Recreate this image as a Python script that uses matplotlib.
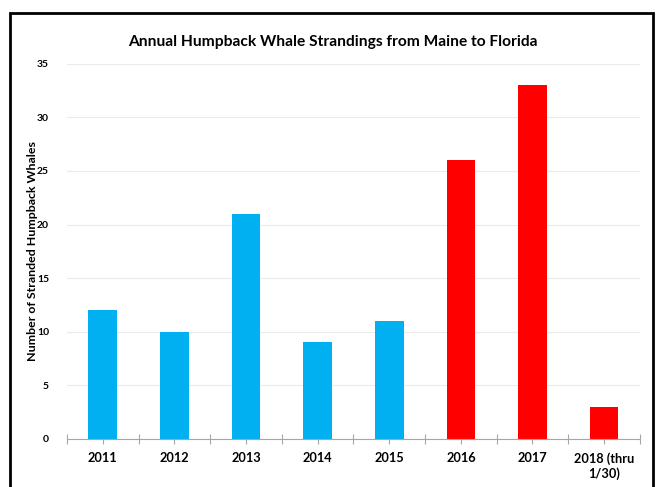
"""Annual humpback whale strandings bar chart."""

import matplotlib

matplotlib.use("Agg")

import matplotlib.pyplot as plt
from matplotlib.patches import Rectangle

years = ["2011", "2012", "2013", "2014", "2015", "2016", "2017", "2018 (thru\n1/30)"]
strandings = [12, 10, 21, 9, 11, 26, 33, 3]
is_ume = [False, False, False, False, False, True, True, True]

BLUE = "#00B0F0"
RED = "#FF0000"

plt.rcParams["font.family"] = ["Lato", "DejaVu Sans"]
plt.rcParams["font.weight"] = "bold"

fig = plt.figure(figsize=(6.57, 4.87), dpi=100)
ax = fig.add_axes([0.102, 0.0986, 0.872, 0.7705])

positions = list(range(len(years)))
colors = [RED if flag else BLUE for flag in is_ume]
ax.bar(positions, strandings, width=0.4, color=colors, zorder=3)

ax.set_xlim(-0.5, len(years) - 0.5)
ax.set_ylim(0, 35)
ax.set_yticks(range(0, 36, 5))
ax.tick_params(axis="y", length=0, labelsize=7.5, pad=13)
for label in ax.get_yticklabels():
    label.set_fontweight("bold")

# boundary ticks plus centre ticks, both crossing the axis line
ax.set_xticks([p - 0.5 for p in positions] + [len(years) - 0.5])
ax.set_xticklabels([])
ax.set_xticks(positions, minor=True)
ax.set_xticklabels(years, minor=True, fontsize=9.2, fontweight="bold")
ax.tick_params(axis="x", which="both", direction="inout", length=7,
               color="#A6A6A6", width=0.8, pad=6)

ax.grid(axis="y", color="#EBEBEB", linewidth=0.8, zorder=0)
for side in ("top", "right", "left"):
    ax.spines[side].set_visible(False)
ax.spines["bottom"].set_color("#A6A6A6")
ax.spines["bottom"].set_zorder(4)

ax.set_ylabel("Number of Stranded Humpback Whales", fontsize=8.9,
              fontweight="bold")
ax.yaxis.set_label_coords(-0.051, 0.5)
fig.text(0.507, 0.913, "Annual Humpback Whale Strandings from Maine to Florida",
         ha="center", va="center", fontsize=11.2, fontweight="bold")

# outer frame, bottom edge runs past the image
frame = Rectangle((10 / 657, -0.05), 643 / 657, 1.05 - 13 / 487,
                  transform=fig.transFigure, fill=False, edgecolor="black",
                  linewidth=2, zorder=10)
fig.patches.append(frame)

fig.savefig("out.png", dpi=100)
